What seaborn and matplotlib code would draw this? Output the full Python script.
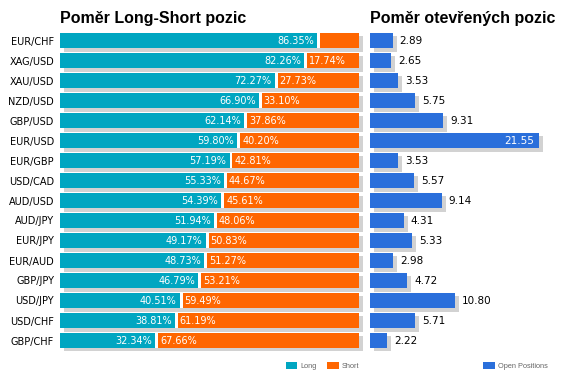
import matplotlib
matplotlib.use("Agg")
import matplotlib.pyplot as plt
import matplotlib.transforms as mtransforms
from matplotlib.patches import Patch
import seaborn as sns
import pandas as pd

# values
pairs = ["EUR/CHF", "XAG/USD", "XAU/USD", "NZD/USD", "GBP/USD", "EUR/USD",
         "EUR/GBP", "USD/CAD", "AUD/USD", "AUD/JPY", "EUR/JPY", "EUR/AUD",
         "GBP/JPY", "USD/JPY", "USD/CHF", "GBP/CHF"]
long_pct = [86.35, 82.26, 72.27, 66.90, 62.14, 59.80, 57.19, 55.33,
            54.39, 51.94, 49.17, 48.73, 46.79, 40.51, 38.81, 32.34]
short_pct = [13.65, 17.74, 27.73, 33.10, 37.86, 40.20, 42.81, 44.67,
             45.61, 48.06, 50.83, 51.27, 53.21, 59.49, 61.19, 67.66]
open_pos = [2.89, 2.65, 3.53, 5.75, 9.31, 21.55, 3.53, 5.57,
            9.14, 4.31, 5.33, 2.98, 4.72, 10.80, 5.71, 2.22]

df = pd.DataFrame({"pair": pairs, "long": long_pct, "short": short_pct, "open": open_pos})
df["total"] = df["long"] + df["short"]
gap = 0.5  # half of the white gap between long and short, in percent units
df["long_bar"] = df["long"] - gap
df["long_cut"] = df["long"] + gap

TEAL = "#00a6c1"
ORANGE = "#ff6600"
BLUE = "#2a6fdb"
SHADOW = "#d2d2d2"
BAR_H = 0.78

sns.set_style("white")
plt.rcParams["font.family"] = ["DejaVu Sans"]

W, H = 565, 385
fig = plt.figure(figsize=(W / 100, H / 100), dpi=100)


def px_axes(x0, y0, x1, y1):
    return fig.add_axes([x0 / W, 1 - y1 / H, (x1 - x0) / W, (y1 - y0) / H])


ax1 = px_axes(60, 30.5, 366, 350.5)
ax2 = px_axes(370, 30.5, 562, 350.5)
bar_kw = dict(y="pair", saturation=1, width=BAR_H, errorbar=None, linewidth=0)


def shadow_bars(ax, col):
    n0 = len(ax.patches)
    sns.barplot(data=df, x=col, color=SHADOW, ax=ax, **bar_kw)
    off = mtransforms.offset_copy(ax.transData, fig=fig, x=4, y=-3.5, units="dots")
    for p in ax.patches[n0:]:
        p.set_transform(off)


# left panel: long / short split
shadow_bars(ax1, "total")
sns.barplot(data=df, x="total", color=ORANGE, ax=ax1, **bar_kw)
sns.barplot(data=df, x="long_cut", color="white", ax=ax1, **bar_kw)
sns.barplot(data=df, x="long_bar", color=TEAL, ax=ax1, **bar_kw)
ax1.set_xlim(0, 100 * 306 / 299)

for i, r in df.iterrows():
    ax1.annotate(f"{r['long']:.2f}%", (r["long_bar"], i), xytext=(-3, 0),
                 textcoords="offset pixels", ha="right", va="center",
                 color="white", fontsize=7)
    if r["short"] >= 15:
        ax1.annotate(f"{r['short']:.2f}%", (r["long_cut"], i), xytext=(2, 0),
                     textcoords="offset pixels", ha="left", va="center",
                     color="white", fontsize=7)

# right panel: open positions
shadow_bars(ax2, "open")
sns.barplot(data=df, x="open", color=BLUE, ax=ax2, **bar_kw)
ax2.set_xlim(0, 192 / 7.85)
big = df["open"].max()
for i, r in df.iterrows():
    if r["open"] == big:
        ax2.annotate(f"{r['open']:.2f}", (r["open"], i), xytext=(-5, 0),
                     textcoords="offset pixels", ha="right", va="center",
                     color="white", fontsize=7.5)
    else:
        ax2.annotate(f"{r['open']:.2f}", (r["open"], i), xytext=(7, 0),
                     textcoords="offset pixels", ha="left", va="center",
                     color="black", fontsize=7.5)

for ax in (ax1, ax2):
    ax.set_ylim(len(pairs) - 0.5, -0.5)
    ax.set_xlabel("")
    ax.set_ylabel("")
    ax.set_xticks([])
    sns.despine(ax=ax, left=True, bottom=True)
ax1.tick_params(axis="y", length=0, pad=4.3, labelsize=7, labelcolor="black")
ax2.set_yticks([])

title_kw = dict(fontsize=11.5, fontweight="bold", family="Liberation Sans",
                va="baseline", ha="left", color="black")
fig.text(60 / W, 1 - 23 / H, "Poměr Long-Short pozic", **title_kw)
fig.text(370 / W, 1 - 23 / H, "Poměr otevřených pozic", **title_kw)

leg_kw = dict(frameon=False, prop={"family": "Liberation Sans", "size": 5.3},
              labelcolor="#666666", handlelength=1.6, handleheight=1.1,
              handletextpad=0.4, columnspacing=1.4, borderpad=0,
              borderaxespad=0, loc="upper right")
fig.legend(handles=[Patch(color=TEAL, label="Long", linewidth=0),
                    Patch(color=ORANGE, label="Short", linewidth=0)],
           ncol=2, bbox_to_anchor=(359 / W, 1 - 362 / H), **leg_kw)
fig.legend(handles=[Patch(color=BLUE, label="Open Positions", linewidth=0)],
           bbox_to_anchor=(548 / W, 1 - 362 / H), **leg_kw)

fig.savefig("out.png", dpi=100)
